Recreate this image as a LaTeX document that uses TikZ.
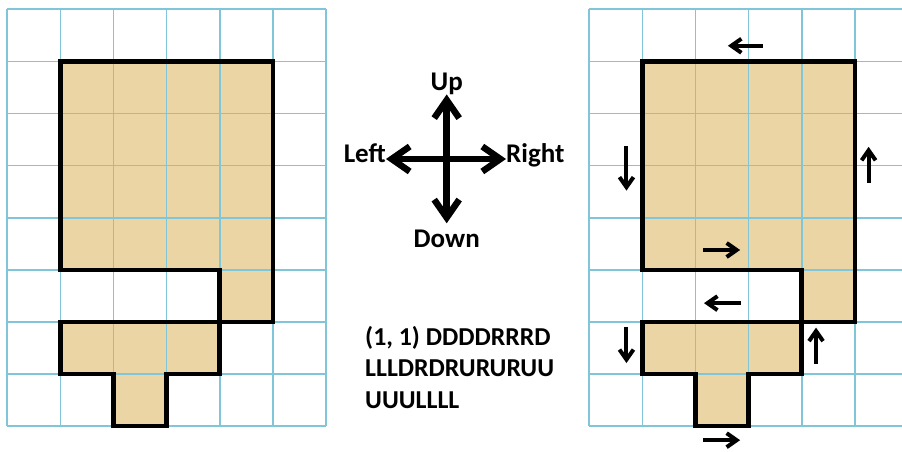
\documentclass[tikz,border=0pt]{standalone}
\usepackage{fontspec}
\setmainfont{Carlito}
\usetikzlibrary{arrows.meta,positioning}

\definecolor{gridblue}{RGB}{128,198,216}
\definecolor{wood}{RGB}{236,213,164}

% the tile, walked from (1,1) in grid cells
\newcommand{\tileshape}{(1,1) -- (1,5) -- (4,5) -- (4,6) -- (1,6) -- (1,7) -- (2,7) -- (2,8)
  -- (3,8) -- (3,7) -- (4,7) -- (4,6) -- (5,6) -- (5,1) -- cycle}

\begin{document}
\begin{tikzpicture}[x=1pt, y=-1pt,
    gridline/.style = {draw=gridblue, line width=1.7pt},
    outline/.style = {draw=black, line width=4.5pt, line join=miter},
    tile/.style = {fill=wood},
    walk/.style = {line width=4pt, -{Straight Barb[length=10pt, width=14pt]}},
    compass/.style = {line width=6.5pt, -{Straight Barb[length=18pt, width=25pt]}},
    dirlabel/.style = {font=\fontsize{27}{32}\selectfont\bfseries, inner sep=0pt}]
  \useasboundingbox (0,0) rectangle (902,452);

  % left grid
  \begin{scope}[shift={(7.3,9.3)}, x=53.1pt, y=-52.1pt]
    \fill[tile] \tileshape;
    \foreach \c in {0,...,6} \draw[gridline] (\c,0) -- (\c,8);
    \foreach \r in {0,...,8} \draw[gridline] (0,\r) -- (6,\r);
    \draw[outline] \tileshape;
  \end{scope}

  % right grid with the walk
  \begin{scope}[shift={(589.3,9.3)}, x=53.1pt, y=-52.1pt]
    \fill[tile] \tileshape;
    \foreach \c in {0,...,5} \draw[gridline] (\c,0) -- (\c,8);
    \foreach \r in {0,...,8} \draw[gridline] (0,\r) -- (5.9,\r);
    \draw[outline] \tileshape;
    \draw[walk] (0.7,2.62) -- (0.7,3.48);
    \draw[walk] (2.14,4.62) -- (2.84,4.62);
    \draw[walk] (2.86,5.64) -- (2.16,5.64);
    \draw[walk] (0.7,6.09) -- (0.7,6.79);
    \draw[walk] (2.14,8.27) -- (2.84,8.27);
    \draw[walk] (4.27,6.81) -- (4.27,6.11);
    \draw[walk] (5.26,3.33) -- (5.26,2.64);
    \draw[walk] (3.27,0.7) -- (2.61,0.7);
  \end{scope}

  % compass
  \coordinate (hub) at (446.7,159);
  \node[dirlabel, anchor=base] (up) at (446.7,90) {Up};
  \node[dirlabel, anchor=base] (down) at (446.7,247) {Down};
  \node[dirlabel, anchor=base east] (left) at (386,162.7) {Left};
  \node[dirlabel, anchor=base west] (right) at (506,162.7) {Right};
  \coordinate (downtip) at ([yshift=6pt]down.north);
  \draw[compass] (hub) -- (hub |- up.south);
  \draw[compass] (hub) -- (downtip);
  \draw[compass] (hub) -- (hub -| left.east);
  \draw[compass] (hub) -- (hub -| right.west);

  \node[anchor=north west, align=left, inner sep=0pt,
        font=\fontsize{25.8}{31.5}\selectfont\bfseries] (steps) at (365,326)
    {(1, 1) DDDDRRRD\\LLLDRDRURURUU\\UUULLLL};
\end{tikzpicture}
\end{document}
